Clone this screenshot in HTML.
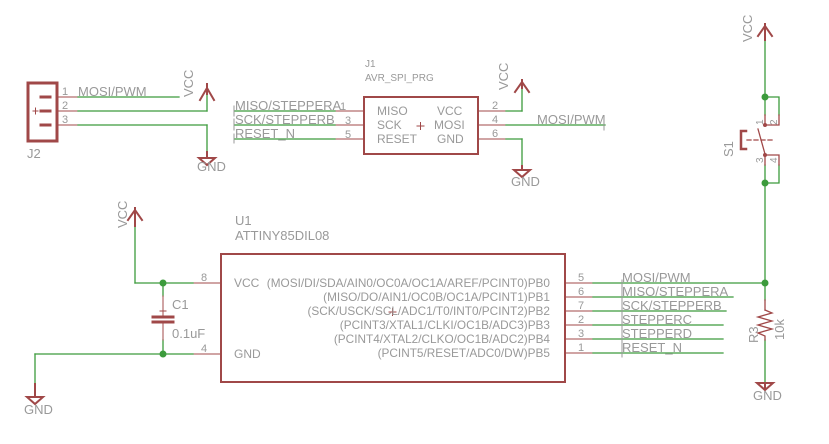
<!DOCTYPE html>
<html><head><style>body{margin:0;background:#fff}svg{display:block}text{font-family:"Liberation Sans",sans-serif;fill:#999}</style></head>
<body>
<svg width="829" height="444" viewBox="0 0 829 444" xmlns="http://www.w3.org/2000/svg">
<g fill="none" stroke-linecap="square">
<rect x="28" y="83" width="29" height="58" stroke="#a04848" stroke-width="3"/>
<g stroke="#a04848" stroke-width="3"><line x1="41" y1="97" x2="50" y2="97"/><line x1="41" y1="111" x2="50" y2="111"/><line x1="41" y1="125" x2="50" y2="125"/></g>
<g stroke="#a04848" stroke-width="1"><line x1="57" y1="97" x2="78" y2="97"/><line x1="57" y1="111" x2="78" y2="111"/><line x1="57" y1="125" x2="78" y2="125"/><line x1="33" y1="111" x2="38" y2="111"/><line x1="35.5" y1="108" x2="35.5" y2="114"/></g>
<g stroke="#3c9b3c" stroke-width="1.3"><line x1="78" y1="97" x2="179" y2="97"/><line x1="78" y1="111" x2="207" y2="111"/><line x1="207" y1="111" x2="207" y2="93"/><line x1="78" y1="125" x2="207" y2="125"/><line x1="207" y1="125" x2="207" y2="152"/></g>
<g stroke="#a04848" stroke-width="2"><polyline points="200,100 207,88 214,100"/><line x1="207" y1="84" x2="207" y2="94"/><line x1="207" y1="152" x2="207" y2="158"/><polygon points="199,158 215,158 207,165"/></g>
<rect x="364" y="97" width="114" height="57" stroke="#a04848" stroke-width="2"/>
<g stroke="#a04848" stroke-width="1"><line x1="335" y1="111" x2="364" y2="111"/><line x1="335" y1="125" x2="364" y2="125"/><line x1="335" y1="139" x2="364" y2="139"/><line x1="478" y1="111" x2="506" y2="111"/><line x1="478" y1="125" x2="506" y2="125"/><line x1="478" y1="139" x2="506" y2="139"/><line x1="417" y1="126" x2="424" y2="126"/><line x1="420.5" y1="122.5" x2="420.5" y2="129.5"/></g>
<g stroke="#3c9b3c" stroke-width="1.3"><line x1="235" y1="111" x2="335" y2="111"/><line x1="235" y1="125" x2="335" y2="125"/><line x1="235" y1="139" x2="335" y2="139"/><line x1="506" y1="111" x2="522" y2="111"/><line x1="522" y1="111" x2="522" y2="87"/><line x1="506" y1="125" x2="605" y2="125"/><line x1="506" y1="139" x2="522" y2="139"/><line x1="522" y1="139" x2="522" y2="166"/></g>
<g stroke="#a04848" stroke-width="2"><polyline points="515,92 522,82 529,92"/><line x1="522" y1="80" x2="522" y2="88"/><line x1="522" y1="166" x2="522" y2="170"/><polygon points="514,170 530,170 522,177"/></g>
<g stroke="#999" stroke-width="1"><line x1="234" y1="106" x2="234" y2="116"/><line x1="234" y1="119" x2="234" y2="130"/><line x1="234" y1="134" x2="234" y2="143"/><line x1="604" y1="120" x2="604" y2="130"/></g>
<rect x="221" y="254" width="344" height="128" stroke="#a04848" stroke-width="2"/>
<g stroke="#a04848" stroke-width="1"><line x1="193" y1="283" x2="221" y2="283"/><line x1="193" y1="354" x2="221" y2="354"/>
<line x1="565" y1="283" x2="593" y2="283"/><line x1="565" y1="297" x2="593" y2="297"/><line x1="565" y1="311" x2="593" y2="311"/><line x1="565" y1="325" x2="593" y2="325"/><line x1="565" y1="339" x2="593" y2="339"/><line x1="565" y1="353" x2="593" y2="353"/>
<line x1="389" y1="312" x2="396" y2="312"/><line x1="392.5" y1="308.5" x2="392.5" y2="315.5"/></g>
<g stroke="#3c9b3c" stroke-width="1.3"><line x1="135" y1="283" x2="193" y2="283"/><line x1="135" y1="283" x2="135" y2="226"/><line x1="35" y1="354" x2="193" y2="354"/><line x1="35" y1="354" x2="35" y2="384"/><line x1="163" y1="283" x2="163" y2="296"/><line x1="163" y1="340" x2="163" y2="354"/>
<line x1="593" y1="283" x2="765" y2="283"/><line x1="593" y1="297" x2="733" y2="297"/><line x1="593" y1="311" x2="726" y2="311"/><line x1="593" y1="325" x2="723" y2="325"/><line x1="593" y1="339" x2="723" y2="339"/><line x1="593" y1="353" x2="723" y2="353"/></g>
<g stroke="#999" stroke-width="1"><line x1="622" y1="280" x2="622" y2="357"/></g>
<g stroke="#a04848" stroke-width="1"><line x1="163" y1="296" x2="163" y2="318"/><line x1="163" y1="324" x2="163" y2="340"/><line x1="160" y1="311" x2="166" y2="311"/></g>
<g stroke="#a04848" stroke-width="3"><line x1="153" y1="317" x2="173" y2="317"/><line x1="153" y1="322" x2="173" y2="322"/></g>
<g stroke="#a04848" stroke-width="2"><polyline points="128,220 135,210 142,220"/><line x1="135" y1="208" x2="135" y2="226"/><line x1="35" y1="384" x2="35" y2="397"/><polygon points="27,397 43,397 35,404"/></g>
<g stroke="#3c9b3c" stroke-width="1.3"><line x1="765" y1="40" x2="765" y2="115"/><polyline points="765,97 779,97 779,115"/><line x1="765" y1="165" x2="765" y2="300"/><polyline points="779,165 779,183 765,183"/><line x1="765" y1="340" x2="765" y2="384"/></g>
<g stroke="#a04848" stroke-width="1.3"><line x1="765" y1="115" x2="765" y2="125"/><polyline points="779,115 779,125 765,125"/><polyline points="765,155 779,155 779,165"/><line x1="765" y1="155" x2="765" y2="165"/><line x1="758" y1="129" x2="765" y2="154"/><line x1="747" y1="140" x2="772" y2="140" stroke-dasharray="4,3"/><line x1="765" y1="300" x2="765" y2="310"/><polyline points="765,310 772,313 758,317 772,321 758,325 772,329 758,333 765,336 765,340"/></g>
<g stroke="#a04848" stroke-width="2.5"><polyline points="746,131 741,131 741,149 746,149"/></g>
<g stroke="#a04848" stroke-width="2"><polyline points="758,36 765,26 772,36"/><line x1="765" y1="24" x2="765" y2="40"/><line x1="765" y1="384" x2="765" y2="388"/><polygon points="757,383 773,383 765,390"/></g>
</g>
<g fill="#3c9b3c"><circle cx="163" cy="283" r="3.5"/><circle cx="163" cy="354" r="3.5"/><circle cx="765" cy="283" r="3.5"/><circle cx="765" cy="97" r="3.5"/><circle cx="765" cy="183" r="3.5"/></g>
<g fill="#a04848"><circle cx="765" cy="125" r="2"/><circle cx="765" cy="155" r="2"/></g>
<g font-size="11">
<text x="62" y="95">1</text><text x="62" y="109">2</text><text x="62" y="123">3</text>
<text x="78" y="96" font-size="13">MOSI/PWM</text>
<text x="27" y="158" font-size="13">J2</text>
<text x="197" y="171" font-size="13">GND</text>
<text transform="translate(193,97) rotate(-90)" font-size="13">VCC</text>
<text x="365" y="67" font-size="10">J1</text>
<text x="365" y="81" font-size="10">AVR_SPI_PRG</text>
<text x="235" y="110" font-size="13">MISO/STEPPERA</text><text x="340" y="110">1</text>
<text x="235" y="124" font-size="13">SCK/STEPPERB</text><text x="345" y="124">3</text>
<text x="235" y="138" font-size="13">RESET_N</text><text x="345" y="138">5</text>
<g font-size="12"><text x="377" y="115">MISO</text><text x="377" y="129">SCK</text><text x="377" y="143">RESET</text>
<text x="437" y="115">VCC</text><text x="434" y="129">MOSI</text><text x="437" y="143">GND</text></g>
<text x="492" y="109">2</text><text x="492" y="123">4</text><text x="492" y="137">6</text>
<text x="537" y="124" font-size="13">MOSI/PWM</text>
<text x="511" y="186" font-size="13">GND</text>
<text transform="translate(508,90) rotate(-90)" font-size="13">VCC</text>
<text x="235" y="225" font-size="13">U1</text>
<text x="235" y="240" font-size="13">ATTINY85DIL08</text>
<text x="201" y="281">8</text><text x="201" y="352">4</text>
<g font-size="12"><text x="234" y="287">VCC</text><text x="234" y="358">GND</text></g>
<g text-anchor="end" font-size="11.8"><text x="550" y="287">(MOSI/DI/SDA/AIN0/OC0A/OC1A/AREF/PCINT0)PB0</text>
<text x="550" y="301">(MISO/DO/AIN1/OC0B/OC1A/PCINT1)PB1</text>
<text x="550" y="315">(SCK/USCK/SCL/ADC1/T0/INT0/PCINT2)PB2</text>
<text x="550" y="329">(PCINT3/XTAL1/CLKI/OC1B/ADC3)PB3</text>
<text x="550" y="343">(PCINT4/XTAL2/CLKO/OC1B/ADC2)PB4</text>
<text x="550" y="357">(PCINT5/RESET/ADC0/DW)PB5</text></g>
<text x="578" y="281">5</text><text x="578" y="295">6</text><text x="578" y="309">7</text><text x="578" y="323">2</text><text x="578" y="337">3</text><text x="578" y="351">1</text>
<g font-size="13"><text x="622" y="282">MOSI/PWM</text><text x="622" y="296">MISO/STEPPERA</text><text x="622" y="310">SCK/STEPPERB</text><text x="622" y="324">STEPPERC</text><text x="622" y="338">STEPPERD</text><text x="622" y="352">RESET_N</text>
<text x="172" y="309">C1</text><text x="172" y="338">0.1uF</text>
<text x="24" y="414">GND</text><text x="753" y="400">GND</text>
<text transform="translate(127,228) rotate(-90)">VCC</text>
<text transform="translate(752,42) rotate(-90)">VCC</text>
<text transform="translate(758,343) rotate(-90)">R3</text>
<text transform="translate(784,340) rotate(-90)">10k</text>
<text transform="translate(733,157) rotate(-90)">S1</text></g>
<text transform="translate(763,125) rotate(-90)" font-size="10">1</text>
<text transform="translate(777,125) rotate(-90)" font-size="10">2</text>
<text transform="translate(763,163) rotate(-90)" font-size="10">3</text>
<text transform="translate(777,163) rotate(-90)" font-size="10">4</text>
</g>
</svg>
</body></html>
